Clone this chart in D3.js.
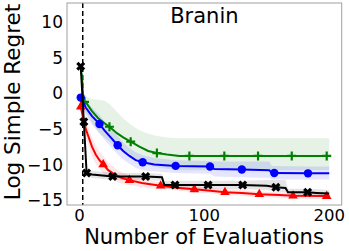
<!DOCTYPE html>
<html><head><meta charset="utf-8">
<script src="https://cdn.jsdelivr.net/npm/d3@7"></script>
<style>body{margin:0;background:#fff}svg{display:block}text{font-family:"DejaVu Sans",sans-serif;fill:#000}</style>
</head><body><svg id="c" width="349" height="251"></svg>
<script>
const title = "Branin";
const xLabel = "Number of Evaluations";
const yLabel = "Log Simple Regret";
const xTicks = [0, 100, 200];
const yTicks = [-15, -10, -5, 0, 5, 10];
const initLineX = 2.6;

// Green (+)
const greenX = [1, 2, 3, 4, 6, 10, 15, 20, 24, 30, 35, 41, 48, 55, 62, 70, 80, 88, 116, 143, 170, 198, 200];
const greenY = [3.2, 2.5, -1.0, -1.2, -1.5, -2.5, -3.5, -4.2, -4.7, -5.6, -6.2, -6.8, -7.5, -8.1, -8.4, -8.6, -8.8, -8.8, -8.8, -8.8, -8.8, -8.8, -8.8];
const greenHi = [3.6, 3.2, 0.2, -0.1, -0.5, -0.8, -0.9, -1.0, -1.5, -2.6, -3.5, -4.4, -5.2, -5.7, -6.0, -6.2, -6.3, -6.3, -6.3, -6.3, -6.3, -6.3, -6.3];
const greenLo = [2.6, 1.8, -2.3, -2.6, -2.9, -4.1, -5.4, -6.2, -6.8, -7.7, -8.3, -9.0, -9.6, -10.1, -10.4, -10.6, -10.8, -10.8, -10.8, -10.8, -10.8, -10.8, -10.8];
const greenMarks = [3, 8, 11, 14, 17, 18, 19, 20, 21];

// Blue (circles)
const blueX = [1, 5, 10, 16, 20, 25, 30.6, 35, 40, 45, 50.6, 60, 77, 104.5, 108, 130, 152, 154, 156, 183, 200];
const blueY = [-0.6, -2.0, -3.2, -4.3, -5.2, -6.2, -7.3, -8.1, -8.8, -9.4, -9.7, -10.0, -10.2, -10.3, -10.65, -10.7, -10.8, -11.2, -11.2, -11.25, -11.25];
const blueHi = [0.2, -1.0, -2.0, -3.0, -3.9, -4.9, -6.0, -6.9, -7.7, -8.3, -8.7, -9.1, -9.4, -9.5, -9.6, -9.6, -9.6, -10.2, -10.2, -10.3, -10.3];
const blueLo = [-1.4, -3.0, -4.4, -5.6, -6.5, -7.5, -8.6, -9.3, -9.9, -10.5, -10.8, -11.0, -11.2, -11.3, -11.7, -11.8, -11.9, -12.1, -12.1, -12.1, -12.1];
const blueMarks = [0, 3, 6, 10, 12, 13, 15, 18, 19];

// Red (triangles)
const redX = [1, 3, 5, 7, 10, 13, 16, 19, 23, 28, 34, 40, 50, 65, 80, 92, 105, 116.5, 130, 144, 160, 171, 198, 200];
const redY = [-1.9, -3.5, -5.0, -6.0, -7.5, -8.6, -9.4, -10.0, -10.8, -11.4, -11.9, -12.2, -12.6, -13.0, -13.3, -13.5, -13.7, -13.9, -14.0, -14.2, -14.3, -14.4, -14.45, -14.45];
const redHi = [-1.2, -2.5, -3.8, -4.8, -6.2, -7.3, -8.2, -8.8, -9.7, -10.5, -11.1, -11.5, -12.0, -12.5, -12.9, -13.1, -13.3, -13.5, -13.6, -13.8, -13.9, -14.0, -14.05, -14.05];
const redLo = [-2.6, -4.5, -6.2, -7.2, -8.8, -9.9, -10.6, -11.2, -11.9, -12.3, -12.7, -12.9, -13.2, -13.5, -13.7, -13.9, -14.1, -14.3, -14.4, -14.6, -14.7, -14.8, -14.85, -14.85];
const redMarks = [0, 7, 11, 13, 15, 17, 19, 21, 22];

// Black (X)
const blackX = [1, 3.5, 5.7, 10, 26.6, 53, 66, 68, 76.5, 103, 130.7, 150, 157.3, 165, 167, 182.7, 190, 200];
const blackY = [3.8, -4.0, -11.2, -11.4, -11.7, -11.7, -11.8, -12.9, -12.9, -12.9, -12.9, -13.0, -13.2, -13.3, -13.9, -13.9, -14.0, -14.1];
const blackHi = [4.1, -3.0, -10.7, -10.9, -11.2, -11.2, -11.3, -12.3, -12.3, -12.3, -12.3, -12.2, -12.2, -12.2, -13.4, -13.4, -13.5, -13.6];
const blackLo = [3.5, -5.0, -11.7, -11.9, -12.2, -12.2, -12.3, -13.4, -13.5, -13.5, -13.5, -13.6, -13.8, -13.9, -14.3, -14.4, -14.5, -14.6];
const blackMarks = [0, 1, 2, 4, 5, 8, 9, 10, 12, 15];

const series = [
  {x: greenX, y: greenY, hi: greenHi, lo: greenLo, marks: greenMarks, color: "#008000", marker: "plus"},
  {x: blueX, y: blueY, hi: blueHi, lo: blueLo, marks: blueMarks, color: "#0000ff", marker: "circle"},
  {x: redX, y: redY, hi: redHi, lo: redLo, marks: redMarks, color: "#ff0000", marker: "triangle"},
  {x: blackX, y: blackY, hi: blackHi, lo: blackLo, marks: blackMarks, color: "#000000", marker: "x"}
];

const svg = d3.select("#c");
const L = 67, R = 341.7, T = 3, B = 205;
const x = d3.scaleLinear().domain([-10, 210]).range([L, R]);
const y = d3.scaleLinear().domain([-15.7, 12.7]).range([B, T]);

svg.append("clipPath").attr("id", "pc").append("rect")
  .attr("x", L).attr("y", T).attr("width", R - L).attr("height", B - T);
const g = svg.append("g").attr("clip-path", "url(#pc)");

series.forEach(s => {
  const pts = s.x.map((v, i) => ({x: v, hi: s.hi[i], lo: s.lo[i]}));
  g.append("path").datum(pts)
    .attr("d", d3.area().x(d => x(d.x)).y0(d => y(d.lo)).y1(d => y(d.hi)))
    .attr("fill", s.color).attr("fill-opacity", 0.1).attr("stroke", "none");
});

g.append("line").attr("x1", x(initLineX)).attr("x2", x(initLineX))
  .attr("y1", T).attr("y2", B).attr("stroke", "#000").attr("stroke-width", 1.5)
  .attr("stroke-dasharray", "5,3");

series.forEach(s => {
  const pts = s.x.map((v, i) => ({x: v, y: s.y[i]}));
  g.append("path").datum(pts)
    .attr("d", d3.line().x(d => x(d.x)).y(d => y(d.y)))
    .attr("fill", "none").attr("stroke", s.color).attr("stroke-width", 2);
  const mk = s.marks.map(i => pts[i]);
  const sel = g.append("g").selectAll("path").data(mk).join("path")
    .attr("transform", d => `translate(${x(d.x)},${y(d.y)})`);
  if (s.marker === "circle") {
    sel.attr("d", d3.symbol(d3.symbolCircle, 56)).attr("fill", s.color);
  } else if (s.marker === "triangle") {
    sel.attr("d", d3.symbol(d3.symbolTriangle, 40)).attr("fill", s.color);
  } else if (s.marker === "plus") {
    sel.attr("d", "M-4.5,0H4.5M0,-4.5V4.5").attr("stroke", s.color).attr("stroke-width", 2.2).attr("fill", "none");
  } else {
    sel.attr("d", "M-3.4,-3.4L3.4,3.4M-3.4,3.4L3.4,-3.4").attr("stroke", s.color).attr("stroke-width", 3.2).attr("fill", "none");
  }
});

svg.append("rect").attr("x", L).attr("y", T).attr("width", R - L).attr("height", B - T)
  .attr("fill", "none").attr("stroke", "#a0a0a0").attr("stroke-width", 1);

const fmt = v => (v < 0 ? "\u2212" + Math.abs(v) : String(v));
svg.append("g").selectAll("text").data(yTicks).join("text")
  .attr("x", 63).attr("y", d => y(d)).attr("dy", "0.36em")
  .attr("text-anchor", "end").attr("font-size", 17).text(fmt);
svg.append("g").selectAll("text").data(xTicks).join("text")
  .attr("x", d => x(d)).attr("y", 221)
  .attr("text-anchor", "middle").attr("font-size", 16.5).text(fmt);

svg.append("text").attr("x", (L + R) / 2).attr("y", 22.7).attr("text-anchor", "middle")
  .attr("font-size", 21).text(title);
svg.append("text").attr("x", 204).attr("y", 243.5).attr("text-anchor", "middle")
  .attr("font-size", 21).text(xLabel);
svg.append("text").attr("transform", "translate(19.5,102) rotate(-90)").attr("text-anchor", "middle")
  .attr("font-size", 21.5).text(yLabel);
</script></body></html>
